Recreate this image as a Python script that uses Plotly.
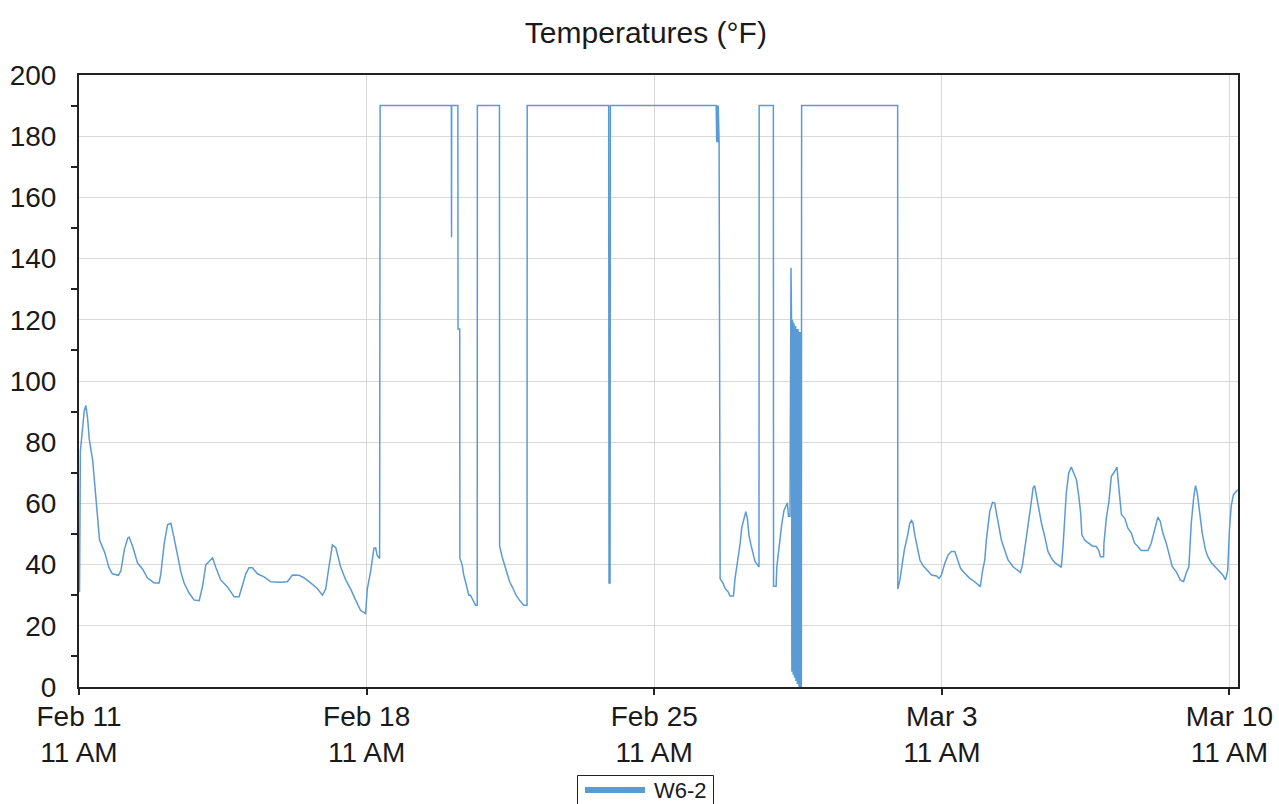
import pandas as pd
import plotly.graph_objects as go

# ---- data -------------------------------------------------------------
series_name = "W6-2"
start_time = "2024-02-11 11:00"
end_offset_hours = 677.0

# hours after Feb 11 11 AM
hours = [
    0.3, 0.8, 3, 4, 5, 6, 8, 9, 10, 11, 12, 15, 17.5, 19.5, 23, 24.5, 26.5, 28.5, 29.3, 31.3,
    34.2, 37.2, 40, 44, 46.8, 47.8, 49.8, 51.7, 53.7, 55.6, 57.6, 59.5, 61.4, 64.3, 67.3, 70.2,
    72.2, 74.1, 76, 78, 80, 82.8, 86.7, 90.6, 93.5, 95.5, 97.4, 99.3, 101.3, 104.2, 108.1, 112,
    117.8, 121.7, 124.7, 128.5, 131.4, 135.3, 139.2, 142.2, 144.1, 146, 148, 150, 152.8, 155.8,
    158.7, 161.6, 164.5, 167.4, 168.4, 170.3, 172.3, 173.3, 174.2, 175.6,
    175.9, 217.5, 217.6, 217.7, 221.3, 221.4, 222.4, 222.5, 223.8, 224.7, 225.8, 226.7, 227.7,
    228.7, 230.2, 231.6, 232.6, 232.7, 245.6, 245.7, 247.2, 248.5, 250.1, 251.6, 253.3, 255.3,
    257.8, 259.8, 261.7, 261.8, 309.4, 309.6, 310.2, 310.4,
    372.2, 372.5, 372.8, 373.1, 373.4, 373.7, 373.9, 374.5, 376.1, 377.4, 379.3, 380.3, 382.3,
    383.2, 384.6, 386.2, 387.1, 388.5, 389.5, 390.4, 391.4, 392.6, 393.6, 394.9, 396.3, 397.2,
    397.3, 405.6, 405.7, 407.2, 407.6, 408.9, 410.5, 411.8, 413.0, 413.8, 414.4, 415.3, 415.9,
    416.2, 416.4, 416.6, 416.8, 417.0, 417.2, 417.4, 417.6, 417.8, 418.0, 418.2, 418.4, 418.6,
    418.8, 419.0, 419.2, 419.4, 419.6, 419.8, 420.0, 420.2, 420.4, 420.6, 420.8, 421.0, 421.2,
    421.4, 421.6, 421.8, 421.95, 422.1,
    478.2, 478.3, 479.5, 481.1, 482.1, 483.8, 485.3, 486.3, 487.2, 488.2, 489.6, 491.2, 493.1,
    496.0, 498.0, 500.9, 502.4, 503.8, 505.7, 507.7, 509.6, 511.6, 512.9, 514.9, 517.4, 520.3,
    523.2, 525.2, 526.5, 527.7, 529.1, 530.0, 531.0, 532.0, 533.6, 534.9, 535.9, 537.2, 538.8,
    540.7, 542.7, 545.6, 547.9, 549.9, 551.1, 552.4, 554.0, 555.9, 557.3, 558.2, 559.2, 560.8,
    562.2, 564.1, 566.0, 568.0, 569.9, 571.9, 573.8, 574.8, 575.7, 576.7, 578.1, 579.6, 580.6,
    582.6, 583.9, 585.1, 585.8, 587.4, 589.3, 591.9, 594.2, 595.7, 596.6, 598.5, 598.7, 600.1,
    601.6, 603.0, 605.0, 606.3, 607.5, 608.9, 610.8, 612.7, 614.7, 616.6, 618.5, 620.5, 624.4,
    626.3, 628.3, 630.2, 631.6, 633.1, 635.1, 637.0, 638.6, 640.9, 643.3, 645.2, 646.7, 648.3,
    649.7, 651.2, 652.2, 653.2, 654.5, 656.1, 658.0, 659.4, 661.3, 663.8, 666.2, 668.1, 669.7,
    671.0, 672.0, 673.0, 674.3, 675.9, 676.8,
]

temps_f = [
    31, 77, 90, 92, 88, 81, 74, 67, 59, 55, 48, 44, 39, 37, 36.5, 38, 45, 48.7, 49, 46,
    40.5, 38.5, 35.6, 34, 34, 37, 47, 53, 53.5, 48.5, 43, 37.6, 34, 30.7, 28.4, 28.2,
    33, 40, 41, 42.2, 39, 35, 32.7, 29.5, 29.5, 33, 36.9, 39, 39, 37, 36, 34.4,
    34.2, 34.4, 36.6, 36.5, 35.7, 34, 32.2, 30, 32, 39.3, 46.4, 45.5, 39.3, 35,
    32, 28.4, 25, 24, 32, 37.6, 45.4, 45.5, 43, 42,
    190, 190, 147, 190, 190, 117, 117, 42, 40, 36.7, 34.3, 32.5, 30,
    30, 28.5, 26.7, 26.7, 190, 190, 46, 42.5, 40, 36.7, 34.3, 32.5, 30,
    28, 26.7, 26.7, 190, 190, 34, 34, 190,
    190, 178, 190, 178, 190, 178, 178, 35.4, 34, 32.2, 31, 29.7, 29.7,
    35.4, 40.5, 46.9, 52, 55.8, 57.3, 55, 49.4, 46.2, 43.7, 41, 39.9, 39.2,
    190, 190, 32.9, 32.9, 39.2, 46.2, 53.2, 57.7, 59.6, 60.2, 55.8, 55.8, 137,
    120, 5, 120, 5, 119, 4, 119, 4, 118, 3, 118, 3, 118,
    2, 117, 2, 117, 1, 117, 1, 116, 1, 116, 0, 116,
    0, 116, 0, 116, 0, 190,
    190, 32, 35, 41, 44.8, 49, 53.5, 54.4, 53.5, 49.7, 45.4, 41.5, 39.6,
    37.7, 36.6, 36.3, 35.5, 36.6, 40.4, 43.2, 44.3, 44.3, 42.1, 38.8, 37.2, 35.5,
    34.4, 33.6, 32.8, 37.7, 41.5, 48, 52.5, 57.4, 60.3, 60.1, 56.8, 52.5, 48,
    44.8, 41.5, 39.3, 38.2, 37.4, 39.9, 45.9, 51.4, 59, 65, 65.8, 62.8, 57.4,
    53.5, 49.2, 44.3, 42.1, 40.7, 39.9, 39.1, 45.9, 53.5, 63.4, 69.9, 71.9, 70.5,
    67.8, 62.8, 56.8, 49.7, 48, 47.2, 46.1, 45.9, 44.6, 42.6, 42.6, 47, 55.2,
    60.6, 68.8, 70.5, 71.9, 64.5, 56.3, 55.2, 51.9, 50.3, 47, 45.9, 44.6, 44.6,
    47, 51.4, 55.5, 54.1, 50.3, 47, 43.2, 39.3, 37.7, 35, 34.4, 37.2, 39.3,
    53.5, 62.3, 65.8, 63.4, 56.8, 50.3, 44.8, 42.6, 40.7, 39.1, 37.7, 36.6, 35,
    38.2, 51.4, 59, 62.8, 63.9, 64.5,
]

tick_times = ["2024-02-11 11:00", "2024-02-18 11:00", "2024-02-25 11:00",
              "2024-03-03 11:00", "2024-03-10 11:00"]
tick_labels = ["Feb 11<br>11 AM", "Feb 18<br>11 AM", "Feb 25<br>11 AM",
               "Mar 3<br>11 AM", "Mar 10<br>11 AM"]

# ---- build ------------------------------------------------------------
t0 = pd.Timestamp(start_time)
times = [t0 + pd.Timedelta(hours=h) for h in hours]
t_end = t0 + pd.Timedelta(hours=end_offset_hours)

LINE_COLOR = "#5B9BD5"
FONT = "Liberation Sans, Arial, sans-serif"
TXT = "#1a1a1a"

W, H = 1279, 804
ML, MR, MT, MB = 79, 41, 75, 117
PW, PH = W - ML - MR, H - MT - MB


def px_x(px):
    return (px - ML) / PW


def px_y(py):
    return (H - MB - py) / PH


fig = go.Figure()
fig.add_trace(go.Scatter(
    x=times, y=temps_f, mode="lines", name=series_name, showlegend=False,
    line=dict(color=LINE_COLOR, width=1.5),
))

# legend box drawn like the reference (framed, long thick swatch)
fig.add_shape(type="rect", xref="paper", yref="paper",
              x0=px_x(577.5), x1=px_x(713.5), y0=px_y(775.5), y1=px_y(812),
              line=dict(color="#222", width=1), fillcolor="white", layer="above")
fig.add_shape(type="line", xref="paper", yref="paper",
              x0=px_x(585), x1=px_x(645), y0=px_y(790), y1=px_y(790),
              line=dict(color=LINE_COLOR, width=6), layer="above")
fig.add_annotation(text=series_name, xref="paper", yref="paper",
                   x=px_x(652), y=px_y(790), xanchor="left", yanchor="middle",
                   showarrow=False, font=dict(size=22, color=TXT, family=FONT))

fig.update_layout(
    width=W, height=H,
    paper_bgcolor="white", plot_bgcolor="white",
    margin=dict(l=ML, r=MR, t=MT, b=MB, autoexpand=False),
    font=dict(family=FONT, color=TXT, size=28),
    title=dict(text="Temperatures (°F)", x=0.505, xanchor="center",
               y=1 - 32 / 804, yanchor="middle", yref="container",
               font=dict(size=30, color=TXT)),
    showlegend=False,
)

fig.update_xaxes(
    type="date", range=[t0, t_end],
    tickmode="array", tickvals=tick_times, ticktext=tick_labels,
    showgrid=True, gridcolor="#d9d9d9", gridwidth=1,
    showline=True, linecolor="#222", linewidth=2, mirror=True,
    ticks="outside", ticklen=6, tickcolor="#222", tickwidth=1.5,
    ticklabelstandoff=-3,
    tickfont=dict(size=28, color=TXT, family=FONT),
    zeroline=False,
)
fig.update_yaxes(
    range=[0, 200], tickmode="linear", tick0=0, dtick=20,
    showgrid=True, gridcolor="#d9d9d9", gridwidth=1,
    showline=True, linecolor="#222", linewidth=2, mirror=True,
    ticks="outside", ticklen=15, tickcolor="rgba(0,0,0,0)",
    minor=dict(dtick=10, tick0=0, ticks="outside", ticklen=6, tickcolor="#222",
               tickwidth=1.5, showgrid=False),
    tickfont=dict(size=28, color=TXT, family=FONT),
    zeroline=False,
)

fig.write_html("out.html", config={"displayModeBar": False},
               post_script="document.body.style.margin='0';")
